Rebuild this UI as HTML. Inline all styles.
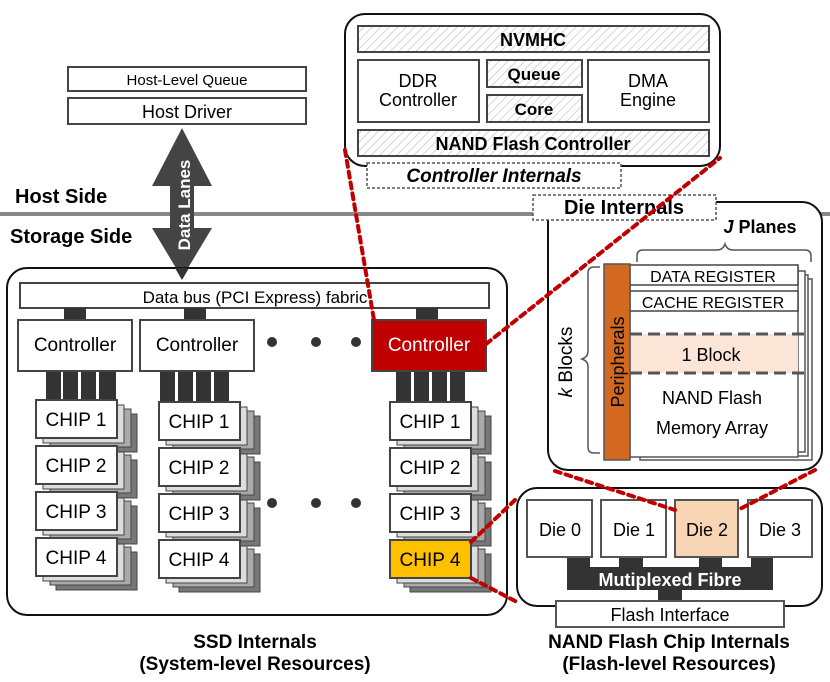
<!DOCTYPE html>
<html><head><meta charset="utf-8"><style>
html,body{margin:0;padding:0;background:#fff}
svg{display:block}
text{font-family:"Liberation Sans",sans-serif;fill:#000}
.b{font-weight:bold}
</style></head><body>
<svg width="830" height="682" viewBox="0 0 830 682" xmlns="http://www.w3.org/2000/svg">
<defs>
<pattern id="h" width="6" height="6" patternUnits="userSpaceOnUse" patternTransform="rotate(45)">
<rect width="6" height="6" fill="#fff"/><line x1="0" y1="0" x2="0" y2="6" stroke="#bbb" stroke-width="1.2"/>
</pattern>
<g id="stk">
<rect x="20" y="14" width="81" height="38" fill="#777" stroke="#444"/>
<rect x="14" y="9" width="81" height="38" fill="#aaa" stroke="#444"/>
<rect x="7" y="5" width="81" height="38" fill="#ddd" stroke="#444"/>
</g>
</defs>

<!-- host side -->
<rect x="68" y="67" width="238" height="24" fill="#fff" stroke="#444" stroke-width="2"/>
<text x="187" y="85" font-size="15" text-anchor="middle">Host-Level Queue</text>
<rect x="68" y="98" width="238" height="26" fill="#fff" stroke="#444" stroke-width="2"/>
<text x="187" y="118" font-size="18" text-anchor="middle">Host Driver</text>
<line x1="0" y1="214" x2="830" y2="214" stroke="#888" stroke-width="4"/>
<text x="15" y="203" font-size="20" class="b">Host Side</text>
<text x="10" y="243" font-size="20" class="b">Storage Side</text>
<polygon points="182,128 212,186 194,186 194,228 212,228 182,278 152,228 170,228 170,186 152,186" fill="#444"/>
<text transform="translate(190,205) rotate(-90)" font-size="17" class="b" text-anchor="middle" style="fill:#fff">Data Lanes</text>

<!-- SSD internals -->
<rect x="7" y="268" width="500" height="347" rx="20" fill="#fff" stroke="#111" stroke-width="2"/>
<polygon points="175,268 189,268 182,280" fill="#333"/>
<rect x="20" y="283" width="469" height="25" fill="#fff" stroke="#444" stroke-width="2"/>
<text x="255" y="303" font-size="17" text-anchor="middle">Data bus (PCI Express) fabric</text>
<rect x="64" y="308" width="22" height="12" fill="#333"/>
<rect x="184" y="308" width="22" height="12" fill="#333"/>
<rect x="416" y="308" width="22" height="12" fill="#333"/>
<rect x="18" y="320" width="114" height="51" fill="#fff" stroke="#444" stroke-width="2"/>
<text x="75" y="351" font-size="19" text-anchor="middle">Controller</text>
<rect x="140" y="320" width="114" height="51" fill="#fff" stroke="#444" stroke-width="2"/>
<text x="197" y="351" font-size="19" text-anchor="middle">Controller</text>
<rect x="372" y="320" width="114" height="51" fill="#C00000" stroke="#444" stroke-width="2"/>
<text x="429" y="351" font-size="19" text-anchor="middle" style="fill:#fff">Controller</text>
<g fill="#333">
<circle cx="272" cy="342" r="5"/><circle cx="316" cy="342" r="5"/><circle cx="356" cy="342" r="5"/>
<circle cx="272" cy="503" r="5"/><circle cx="316" cy="503" r="5"/><circle cx="356" cy="503" r="5"/>
<rect x="46" y="372" width="15" height="28"/><rect x="63" y="372" width="15" height="28"/><rect x="81" y="372" width="15" height="28"/><rect x="99" y="372" width="17" height="28"/>
<rect x="160" y="372" width="15" height="30"/><rect x="178" y="372" width="15" height="30"/><rect x="196" y="372" width="15" height="30"/><rect x="214" y="372" width="15" height="30"/>
<rect x="396" y="372" width="15" height="30"/><rect x="414" y="372" width="15" height="30"/><rect x="432" y="372" width="15" height="30"/><rect x="450" y="372" width="15" height="30"/>
</g>
<!-- column 1 -->
<use href="#stk" x="36" y="538"/><use href="#stk" x="36" y="492"/><use href="#stk" x="36" y="446"/><use href="#stk" x="36" y="400"/>
<g fill="#fff" stroke="#444" stroke-width="2">
<rect x="36" y="400" width="81" height="38"/><rect x="36" y="446" width="81" height="38"/><rect x="36" y="492" width="81" height="38"/><rect x="36" y="538" width="81" height="38"/>
</g>
<!-- column 2 -->
<use href="#stk" x="159" y="540"/><use href="#stk" x="159" y="494"/><use href="#stk" x="159" y="448"/><use href="#stk" x="159" y="402"/>
<g fill="#fff" stroke="#444" stroke-width="2">
<rect x="159" y="402" width="81" height="38"/><rect x="159" y="448" width="81" height="38"/><rect x="159" y="494" width="81" height="38"/><rect x="159" y="540" width="81" height="38"/>
</g>
<!-- column 3 -->
<use href="#stk" x="390" y="540"/><use href="#stk" x="390" y="494"/><use href="#stk" x="390" y="448"/><use href="#stk" x="390" y="402"/>
<g fill="#fff" stroke="#444" stroke-width="2">
<rect x="390" y="402" width="81" height="38"/><rect x="390" y="448" width="81" height="38"/><rect x="390" y="494" width="81" height="38"/><rect x="390" y="540" width="81" height="38" fill="#FFC000"/>
</g>
<g font-size="19" text-anchor="middle">
<text x="76" y="426">CHIP 1</text><text x="76" y="472">CHIP 2</text><text x="76" y="518">CHIP 3</text><text x="76" y="564">CHIP 4</text>
<text x="199" y="428">CHIP 1</text><text x="199" y="474">CHIP 2</text><text x="199" y="520">CHIP 3</text><text x="199" y="566">CHIP 4</text>
<text x="430" y="428">CHIP 1</text><text x="430" y="474">CHIP 2</text><text x="430" y="520">CHIP 3</text><text x="430" y="566">CHIP 4</text>
</g>
<text x="255" y="648" font-size="19" class="b" text-anchor="middle">SSD Internals</text>
<text x="255" y="670" font-size="19" class="b" text-anchor="middle">(System-level Resources)</text>

<!-- controller internals -->
<rect x="345" y="14" width="375" height="152" rx="20" fill="#fff" stroke="#111" stroke-width="2"/>
<g stroke="#444" stroke-width="2">
<rect x="358" y="26" width="351" height="26" fill="url(#h)"/>
<rect x="358" y="60" width="121" height="62" fill="#fff"/>
<rect x="487" y="60" width="95" height="27" fill="url(#h)"/>
<rect x="487" y="95" width="95" height="27" fill="url(#h)"/>
<rect x="588" y="60" width="121" height="62" fill="#fff"/>
<rect x="358" y="130" width="351" height="26" fill="url(#h)"/>
</g>
<text x="533" y="46" font-size="18" class="b" text-anchor="middle">NVMHC</text>
<text x="418" y="87" font-size="18" text-anchor="middle">DDR</text>
<text x="418" y="106" font-size="18" text-anchor="middle">Controller</text>
<text x="534" y="80" font-size="17" class="b" text-anchor="middle">Queue</text>
<text x="534" y="115" font-size="17" class="b" text-anchor="middle">Core</text>
<text x="648" y="87" font-size="18" text-anchor="middle">DMA</text>
<text x="648" y="106" font-size="18" text-anchor="middle">Engine</text>
<text x="533" y="150" font-size="18" class="b" text-anchor="middle">NAND Flash Controller</text>
<rect x="367" y="163" width="254" height="25" fill="#fff" stroke="#555" stroke-width="1.5" stroke-dasharray="3,2"/>
<text x="494" y="182" font-size="19" class="b" font-style="italic" text-anchor="middle">Controller Internals</text>

<!-- die internals -->
<rect x="548" y="202" width="274" height="268" rx="20" fill="#fff" stroke="#111" stroke-width="2"/>
<rect x="533" y="195" width="183" height="25" fill="#fff" stroke="#555" stroke-width="1.5" stroke-dasharray="3,2"/>
<text x="624" y="214" font-size="20" class="b" text-anchor="middle">Die Internals</text>
<text x="760" y="233" font-size="18" class="b" text-anchor="middle"><tspan font-style="italic">J</tspan> Planes</text>
<path d="M637,262 v-6 q0,-6 6,-6 h74 q6,0 8,-6 q2,6 8,6 h72 q6,0 6,6 v6" fill="none" stroke="#555" stroke-width="1.5"/>
<path d="M600,267 h-6 q-6,0 -6,6 v78 q0,6 -6,8 q6,2 6,8 v80 q0,6 6,6 h6" fill="none" stroke="#555" stroke-width="1.5"/>
<text transform="translate(572,362) rotate(-90)" font-size="19" text-anchor="middle"><tspan font-style="italic">k</tspan> Blocks</text>
<g fill="#fff" stroke="#555" stroke-width="1.5">
<rect x="640" y="279" width="172" height="181"/>
<rect x="636" y="275" width="172" height="181"/>
<rect x="633" y="271" width="172" height="181"/>
<rect x="630" y="268" width="168" height="189"/>
</g>
<rect x="630" y="334" width="168" height="39" fill="#FBE5D6"/>
<line x1="630" y1="334" x2="806" y2="334" stroke="#555" stroke-width="3" stroke-dasharray="12,6"/>
<line x1="630" y1="373" x2="806" y2="373" stroke="#555" stroke-width="3" stroke-dasharray="12,6"/>
<rect x="630" y="265" width="168" height="20" fill="#fff" stroke="#444" stroke-width="1.5"/>
<rect x="630" y="291" width="168" height="20" fill="#fff" stroke="#444" stroke-width="1.5"/>
<text x="713" y="282" font-size="16" text-anchor="middle">DATA REGISTER</text>
<text x="713" y="308" font-size="16" text-anchor="middle">CACHE REGISTER</text>
<text x="711" y="361" font-size="18" text-anchor="middle">1 Block</text>
<text x="712" y="404" font-size="18" text-anchor="middle">NAND Flash</text>
<text x="712" y="434" font-size="18" text-anchor="middle">Memory Array</text>
<rect x="604" y="264" width="26" height="196" fill="#D2691E" stroke="#555" stroke-width="1.5"/>
<text transform="translate(624,362) rotate(-90)" font-size="18" text-anchor="middle">Peripherals</text>

<!-- NAND flash chip internals -->
<rect x="517" y="488" width="305" height="118" rx="20" fill="#fff" stroke="#111" stroke-width="2"/>
<g fill="#333">
<rect x="567" y="557" width="206" height="33"/>
<rect x="658" y="590" width="24" height="12"/>
</g>
<g fill="#fff">
<rect x="590" y="557" width="29" height="10"/><rect x="643" y="557" width="56" height="10"/><rect x="722" y="557" width="29" height="10"/>
</g>
<text x="670" y="586" font-size="18" class="b" text-anchor="middle" style="fill:#fff">Mutiplexed Fibre</text>
<g stroke="#555" stroke-width="2">
<rect x="527" y="500" width="65" height="57" fill="#fff"/>
<rect x="601" y="500" width="65" height="57" fill="#fff"/>
<rect x="675" y="500" width="63" height="57" fill="#F8D5B5"/>
<rect x="748" y="500" width="64" height="57" fill="#fff"/>
</g>
<g font-size="18" text-anchor="middle">
<text x="560" y="536">Die 0</text><text x="634" y="536">Die 1</text><text x="707" y="536">Die 2</text><text x="780" y="536">Die 3</text>
</g>
<rect x="556" y="601" width="228" height="26" fill="#fff" stroke="#555" stroke-width="2"/>
<text x="670" y="621" font-size="18" text-anchor="middle">Flash Interface</text>
<text x="669" y="648" font-size="19" class="b" text-anchor="middle">NAND Flash Chip Internals</text>
<text x="669" y="670" font-size="19" class="b" text-anchor="middle">(Flash-level Resources)</text>

<!-- red dotted connectors -->
<g stroke="#C00000" stroke-width="4" stroke-dasharray="6,5" fill="none" stroke-linecap="round">
<line x1="345" y1="150" x2="374" y2="320"/>
<line x1="486" y1="344" x2="720" y2="158"/>
<line x1="471" y1="542" x2="515" y2="500"/>
<line x1="471" y1="578" x2="517" y2="602"/>
<line x1="555" y1="471" x2="675" y2="510"/>
<line x1="815" y1="470" x2="738" y2="510"/>
</g>
</svg>
</body></html>
